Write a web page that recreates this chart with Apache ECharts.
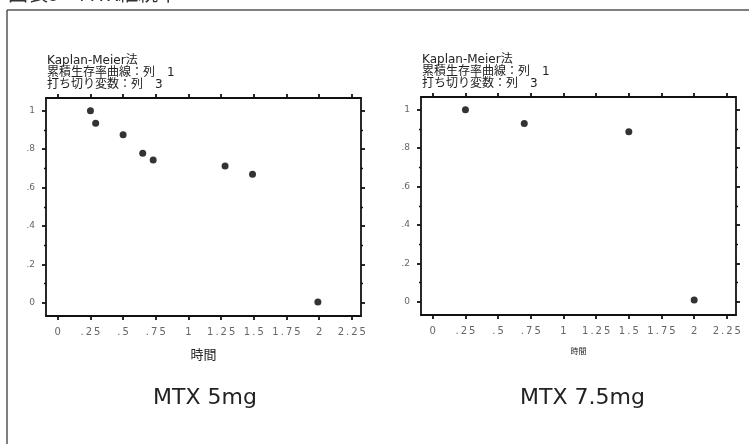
<!DOCTYPE html>
<html><head><meta charset="utf-8">
<script src="https://cdn.jsdelivr.net/npm/echarts@6/dist/echarts.min.js"></script>
<style>html,body{margin:0;padding:0;background:#fff}#c{width:749px;height:444px}</style>
</head><body><div id="c"></div>
<script>
const xTicks = [0, 0.25, 0.5, 0.75, 1, 1.25, 1.5, 1.75, 2, 2.25];
const yTicks = [0, 0.2, 0.4, 0.6, 0.8, 1];
const yMinorTicks = [0.1, 0.3, 0.5, 0.7, 0.9];
const timeLeft = [0.25, 0.29, 0.5, 0.65, 0.73, 1.28, 1.49, 1.99];
const survLeft = [1.0, 0.935, 0.875, 0.778, 0.743, 0.712, 0.670, 0.005];
const timeRight = [0.25, 0.7, 1.5, 2.0];
const survRight = [1.0, 0.928, 0.885, 0.01];
const titleLines = ['Kaplan-Meier法', '累積生存率曲線：列　1', '打ち切り変数：列　3'];
const panelNames = ['MTX 5mg', 'MTX 7.5mg'];
const axisNames = ['時間', '時間'];
const headerText = '図表5　MTX継続率';

function fmtNum(v) {
  let s = String(+v.toFixed(2));
  if (s.startsWith('0.')) s = s.slice(1);
  return s;
}
function spaced(s) { return s.split('').join('\u2009'); }

const XMIN = -0.09, XMAX = 2.32, YMIN = -0.068, YMAX = 1.066;
const lineStyle = { color: '#111', width: 1.8 };
const grids = [
  { left: 46, top: 98, width: 315, height: 218 },
  { left: 421, top: 97, width: 315, height: 218 }
];
const xAxes = [], yAxes = [];
grids.forEach((g, i) => {
  xAxes.push({
    gridIndex: i, type: 'value', min: XMIN, max: XMAX, position: 'bottom',
    name: axisNames[i], nameLocation: 'middle', nameGap: 32,
    nameTextStyle: { fontSize: i === 0 ? 13 : 8, color: '#222', fontFamily: 'Noto Sans CJK JP' },
    axisLine: { show: true, onZero: false, lineStyle },
    axisTick: { show: true, inside: false, length: 4, lineStyle, customValues: xTicks },
    axisLabel: { show: true, margin: 11, fontSize: 10, color: '#666', fontFamily: 'DejaVu Sans',
      customValues: xTicks, formatter: v => spaced(fmtNum(v)) },
    splitLine: { show: false }
  });
  xAxes.push({
    gridIndex: i, type: 'value', min: XMIN, max: XMAX, position: 'top',
    axisLine: { show: true, onZero: false, lineStyle },
    axisTick: { show: true, inside: false, length: 4, lineStyle, customValues: xTicks },
    axisLabel: { show: false }, splitLine: { show: false }
  });
  ['left', 'right'].forEach(pos => {
    yAxes.push({
      gridIndex: i, type: 'value', min: YMIN, max: YMAX, position: pos,
      axisLine: { show: true, onZero: false, lineStyle },
      axisTick: { show: true, inside: false, length: 4, lineStyle, customValues: yTicks },
      axisLabel: { show: pos === 'left', margin: 11, fontSize: 9, color: '#666', fontFamily: 'DejaVu Sans',
        customValues: yTicks, formatter: v => fmtNum(v) },
      splitLine: { show: false }
    });
    yAxes.push({
      gridIndex: i, type: 'value', min: YMIN, max: YMAX, position: pos,
      axisLine: { show: false, onZero: false },
      axisTick: { show: true, inside: false, length: 2, lineStyle: { color: '#111', width: 1.4 }, customValues: yMinorTicks },
      axisLabel: { show: false }, splitLine: { show: false }
    });
  });
});

const titleGraphics = [];
grids.forEach((g, i) => {
  titleLines.forEach((t, k) => {
    titleGraphics.push({ type: 'text', x: g.left + 1, y: 61 + k * 12 - (i === 1 ? 1 : 0),
      style: { text: t, fontSize: 12, fill: '#222', verticalAlign: 'middle', fontFamily: 'DejaVu Sans, Noto Sans CJK JP' } });
  });
});

const chart = echarts.init(document.getElementById('c'), null, { renderer: 'canvas' });
chart.setOption({
  animation: false,
  backgroundColor: '#fff',
  grid: grids,
  xAxis: xAxes,
  yAxis: yAxes,
  series: [
    { type: 'scatter', xAxisIndex: 0, yAxisIndex: 0, symbol: 'circle', symbolSize: 7,
      itemStyle: { color: '#000' }, data: timeLeft.map((t, k) => [t, survLeft[k]]) },
    { type: 'scatter', xAxisIndex: 2, yAxisIndex: 4, symbol: 'circle', symbolSize: 7,
      itemStyle: { color: '#000' }, data: timeRight.map((t, k) => [t, survRight[k]]) }
  ],
  graphic: [
    { type: 'line', shape: { x1: 7, y1: 10, x2: 749, y2: 10 }, style: { stroke: '#555', lineWidth: 1.5 } },
    { type: 'line', shape: { x1: 7, y1: 10, x2: 7, y2: 444 }, style: { stroke: '#555', lineWidth: 1.5 } },
    { type: 'text', x: 8, y: -17, style: { text: headerText, fontSize: 20, fill: '#333', fontFamily: 'Noto Sans CJK JP' } },
    { type: 'text', x: 205, y: 398, style: { text: panelNames[0], fontSize: 22, fill: '#222', align: 'center', verticalAlign: 'middle', fontFamily: 'DejaVu Sans' } },
    { type: 'text', x: 582.5, y: 398, style: { text: panelNames[1], fontSize: 22, fill: '#222', align: 'center', verticalAlign: 'middle', fontFamily: 'DejaVu Sans' } }
  ].concat(titleGraphics)
});
</script></body></html>
